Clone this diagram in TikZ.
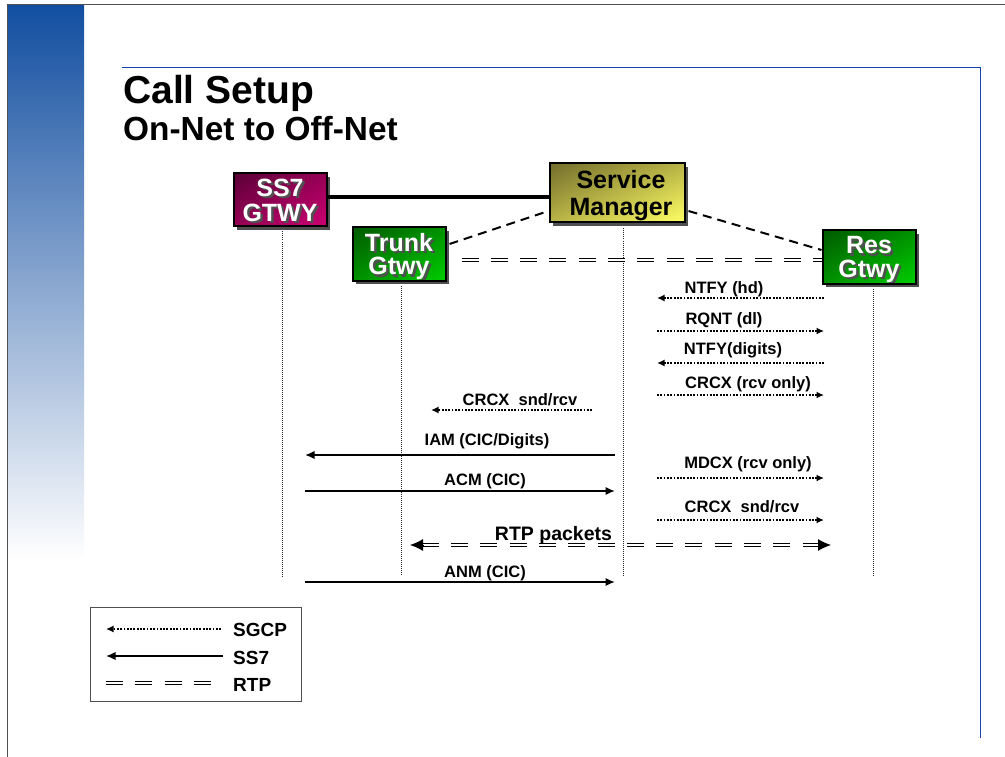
\documentclass[tikz,border=0pt]{standalone}
\usepackage{fontspec}
\setmainfont{Liberation Sans}
\usetikzlibrary{arrows.meta,shadings,shadows}
\definecolor{bluehead}{RGB}{18,78,160}
\definecolor{bandmid}{RGB}{125,138,190}
\definecolor{ruleblue}{RGB}{20,70,175}
\definecolor{linegray}{RGB}{80,80,80}
\definecolor{shadowgray}{RGB}{80,80,80}
\definecolor{ssa}{RGB}{90,0,55}\definecolor{ssb}{RGB}{150,0,85}\definecolor{ssc}{RGB}{205,0,115}
\definecolor{gra}{RGB}{0,90,0}\definecolor{grb}{RGB}{0,145,0}\definecolor{grc}{RGB}{0,205,0}
\definecolor{yla}{RGB}{115,110,45}\definecolor{ylb}{RGB}{185,180,70}\definecolor{ylc}{RGB}{255,255,100}
\tikzset{
  x=1pt,y=-1pt,
  box/.style n args={5}{draw=black,line width=2pt,minimum width=#1,minimum height=#2,inner sep=0pt,align=center,
    font=\bfseries\fontsize{25}{26}\selectfont,
    shade,upper left=#3,upper right=#4,lower left=#4,lower right=#5,
    general shadow={shadow xshift=3.5pt,shadow yshift=-3.5pt,fill=shadowgray}},
  lifeline/.style={line width=0.8pt,black!85,dash pattern=on 1pt off 1pt},
  msgdot/.style={line width=1.8pt,dash pattern=on 1.8pt off 1.5pt,-{Latex[length=7.5pt,width=7pt]}},
  msgline/.style={line width=2pt,-{Latex[length=9.5pt,width=8.5pt]}},
  rtp/.style={double=white,double distance=1.4pt,line width=1.6pt,dash pattern=on 17pt off 12.3pt},
  link/.style={line width=2pt,dash pattern=on 9pt off 6pt},
  lbl/.style={anchor=base,font=\bfseries\fontsize{16.5}{18}\selectfont,inner sep=0pt},
  legtext/.style={anchor=base west,inner sep=0pt,font=\bfseries\fontsize{19}{20}\selectfont},
  big head/.style={line width=1pt,-{Latex[length=13pt,width=12pt]}},
}
% name, x-from, x-to, y, label name, label x, label base y, label text, style
\newcommand{\msg}[9]{%
  \coordinate (#1a) at (#2,#4); \coordinate (#1b) at (#3,#4);
  \draw[#9] (#1a) -- (#1b);
  \node[lbl] (#5) at (#6,#7) {#8};
}
\newcommand{\shtext}[1]{\node[shadowgray,align=center,inner sep=0pt,font=\bfseries\fontsize{25}{26}\selectfont] at ([xshift=2.5pt,yshift=-2.5pt]path picture bounding box.center) {#1};}
\begin{document}
\begin{tikzpicture}
\useasboundingbox (0,0) rectangle (1005,757);
\fill[white] (0,0) rectangle (1005,757);
% page frame and side band
\shade[top color=bluehead,middle color=bandmid,bottom color=white] (8,5) rectangle (84,560);
\draw[linegray,line width=1pt] (7.5,757) -- (7.5,4.5) -- (1005,4.5);
\draw[ruleblue,line width=1pt] (122,68) -- (980.5,68) -- (980.5,738);
% title
\node[anchor=base west,inner sep=0pt,font=\bfseries\fontsize{39}{39}\selectfont] (title) at (123,104) {Call Setup};
\node[anchor=base west,inner sep=0pt,font=\bfseries\fontsize{33.4}{34}\selectfont] (subtitle) at (123,141) {On-Net to Off-Net};
% boxes
\node[box={93pt}{53pt}{ssa}{ssb}{ssc},text=white,path picture={\shtext{SS7\\[-1pt]GTWY}}] (ss) at (280,200) {SS7\\[-1pt]GTWY};
\node[box={93pt}{53pt}{gra}{grb}{grc},text=white,path picture={\shtext{Trunk\\[-2.5pt]\smash{Gtwy}}}] (tr) at (399,254) {Trunk\\[-2.5pt]\smash{Gtwy}};
\node[box={135pt}{59pt}{yla}{ylb}{ylc},text=black] (sm) at (617,193) {\hspace*{8pt}Service\\[1pt]\hspace*{8pt}\smash{Manager}};
\node[box={93pt}{53pt}{gra}{grb}{grc},text=white,path picture={\shtext{Res\\[-2.5pt]\smash{Gtwy}}}] (rs) at (869,257) {Res\\[-2.5pt]\smash{Gtwy}};
% lifelines
\coordinate (sse) at (282,577);
\coordinate (tre) at (401,575);
\coordinate (sme) at (623,576);
\coordinate (rse) at (873,576);
\draw[lifeline] ([yshift=-4pt]ss.south -| sse) -- (sse);
\draw[lifeline] ([yshift=-4pt]tr.south -| tre) -- (tre);
\draw[lifeline] ([yshift=-5pt]sm.south -| sme) -- (sme);
\draw[lifeline] ([yshift=-4pt]rs.south -| rse) -- (rse);
% links
\draw[line width=4pt] ([yshift=3pt]ss.east) -- ([yshift=3pt]ss.east -| sm.west);
\draw[link] ([xshift=3pt,yshift=10pt]tr.east) -- ([yshift=-18pt]sm.west);
\draw[link] ([xshift=3pt,yshift=-18pt]sm.east) -- ([yshift=7pt]rs.west);
\draw[rtp] ([xshift=15pt,yshift=-6pt]tr.east) -- ([yshift=-3pt]rs.west);
% messages
\msg{a}{824}{657}{298}{la}{724}{293}{NTFY (hd)}{msgdot}
\msg{b}{657}{824}{331}{lb}{724}{324.5}{RQNT (dl)}{msgdot}
\msg{c}{824}{657}{363}{lc}{733}{354}{NTFY(digits)}{msgdot}
\msg{d}{657}{824}{395}{ld}{748}{388}{CRCX (rcv only)}{msgdot}
\msg{e}{592}{431}{410}{le}{520}{405}{CRCX\ \ snd/rcv}{msgdot}
\msg{f}{615}{305}{455}{lf}{487}{445.5}{IAM (CIC/Digits)}{msgline}
\msg{g}{657}{824}{478}{lg}{748}{468}{MDCX (rcv only)}{msgdot}
\msg{h}{305}{615}{491}{lh}{485}{485}{ACM (CIC)}{msgline}
\msg{i}{657}{824}{520}{li}{742}{512}{CRCX\ \ snd/rcv}{msgdot}
\msg{j}{305}{615}{582}{lj}{485}{577}{ANM (CIC)}{msgline}
% RTP packets
\coordinate (r1) at (421.7,545); \coordinate (r2) at (819,545);
\coordinate (r3) at (423,545); \coordinate (r4) at (410,545);
\coordinate (r5) at (818,545); \coordinate (r6) at (831,545);
\draw[rtp] (r1) -- (r2);
\draw[big head] (r3) -- (r4);
\draw[big head] (r5) -- (r6);
\node[anchor=base,inner sep=0pt,font=\bfseries\fontsize{19.5}{20}\selectfont] (rp) at (553.5,540) {RTP packets};
% legend
\node[draw=linegray,line width=1pt,minimum width=211pt,minimum height=94pt,inner sep=0pt] (legend) at (195.5,654.7) {};
\coordinate (ka) at (221,629); \coordinate (kb) at (106,629);
\coordinate (kc) at (223,656); \coordinate (kd) at (106,656);
\coordinate (ke) at (106,683); \coordinate (kf) at (223,683);
\draw[msgdot] (ka) -- (kb);
\draw[msgline] (kc) -- (kd);
\draw[rtp] (ke) -- (kf);
\node[legtext] (l1) at (233,636) {SGCP};
\node[legtext] (l2) at (233,664) {SS7};
\node[legtext] (l3) at (233,691) {RTP};
\end{tikzpicture}
\end{document}
